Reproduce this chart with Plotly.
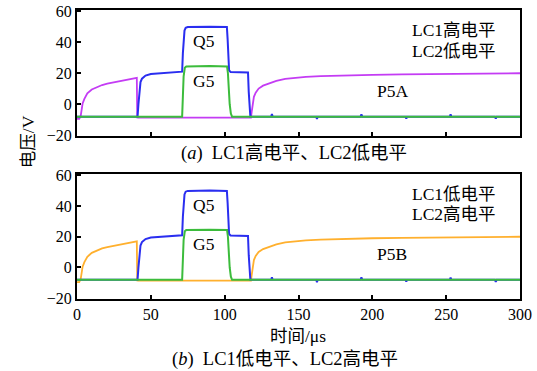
import plotly.graph_objects as go
from plotly.subplots import make_subplots

# ---------------- data ----------------
t_p5 = [0, 1.5, 2.5, 3.2, 3.8, 5, 7, 10, 13.7, 17, 20.5, 26, 31.8, 36, 40.5, 40.8, 41.5,
        60, 80, 100, 116, 117.8, 118.3, 119, 119.8, 121, 123, 126, 129.7, 135, 141, 148,
        155, 165, 180, 200, 220, 240, 260, 280, 300]
v_p5a = [-9.5, -9.5, -7.5, -3, 0.5, 3.5, 7, 9.5, 11.1, 12.4, 13.3, 14.4, 15.4, 16.2, 17.0, -8.5, -8.6,
         -8.6, -8.7, -8.6, -8.6, -8.6, -5, 0, 4.8, 7.5, 10.1, 12, 13.3, 15, 16.4, 17.1,
         17.6, 18.1, 18.6, 19.0, 19.3, 19.5, 19.7, 19.8, 20.0]
v_p5b = [-9.5, -9.5, -7.5, -3, 0.5, 3.5, 7, 9.5, 11.1, 12.4, 13.3, 14.4, 15.4, 16.2, 17.0, -8.5, -8.6,
         -8.6, -8.7, -8.6, -8.6, -8.6, -5, 0, 4.8, 7.5, 10.1, 12, 13.3, 15, 16.4, 17.1,
         17.6, 18.1, 18.6, 19.0, 19.3, 19.5, 19.7, 19.8, 20.0]

t_q5 = [0, 41, 41.6, 42.2, 43, 44, 46.4, 50, 57.7, 65, 71.2, 71.7, 72.2, 72.8, 73.6, 75, 90, 101.5,
        102, 102.5, 103, 104, 110, 115.8, 116.3, 116.8, 117.4, 131.5, 132, 132.5,
        162, 162.5, 163, 192, 192.6, 193.2, 222.5, 223, 223.5, 252.5, 253, 253.5,
        283, 283.6, 284.2, 300]
v_q5 = [-8, -8, 0, 8, 14.3, 16.5, 18.5, 19.5, 20.2, 20.6, 21, 33, 43, 47.5, 49.3, 49.8, 50, 49.8,
        42, 28, 21.8, 20.8, 20.6, 20.5, 8, -4, -8, -8, -6.3, -8,
        -8, -9.5, -8, -8, -6.5, -8, -8, -9.3, -8, -8, -6.5, -8,
        -8, -9.3, -8, -8]

t_g5 = [0, 71.2, 71.7, 72.2, 73, 74, 90, 101.6, 102.2, 102.8, 103.4, 104.2, 105, 300]
v_g5 = [-8, -8, 5, 18, 23.5, 24.4, 24.6, 24.4, 20, 9, 0, -6, -8, -8]

x_ticks = [0, 50, 100, 150, 200, 250, 300]
y_ticks = [-20, 0, 20, 40, 60]
y_tick_text = ["\u221220", "0", "20", "40", "60"]

# ---------------- figure ----------------
SERIF = "Liberation Serif, Noto Sans CJK SC, serif"
MAGENTA = "#c43cf4"
ORANGE = "#ffb02e"
BLUE = "#2a2ef0"
GREEN = "#3cbc3c"

fig = make_subplots(rows=2, cols=1, vertical_spacing=0.1315)

for row, p5, col in [(1, v_p5a, MAGENTA), (2, v_p5b, ORANGE)]:
    fig.add_trace(go.Scatter(x=t_p5, y=p5, mode="lines", line=dict(color=col, width=1.8),
                             showlegend=False), row=row, col=1)
    fig.add_trace(go.Scatter(x=t_q5, y=v_q5, mode="lines", line=dict(color=BLUE, width=2),
                             showlegend=False), row=row, col=1)
    fig.add_trace(go.Scatter(x=t_g5, y=v_g5, mode="lines", line=dict(color=GREEN, width=2),
                             showlegend=False), row=row, col=1)

axis_common = dict(showline=True, linecolor="black", linewidth=2, mirror=True,
                   ticks="inside", ticklen=4, tickwidth=1.5, tickcolor="black",
                   showgrid=False, zeroline=False, automargin=False,
                   tickfont=dict(family=SERIF, size=16, color="black"))

fig.update_xaxes(range=[0, 300], tickvals=x_ticks, **axis_common)
fig.update_yaxes(range=[-20.5, 60.8], tickvals=y_ticks, ticktext=y_tick_text, **axis_common)
fig.update_xaxes(showticklabels=False, row=1, col=1)

fig.update_layout(
    width=537, height=371,
    margin=dict(l=77, r=17, t=10, b=72, autoexpand=False),
    plot_bgcolor="white", paper_bgcolor="white",
    font=dict(family=SERIF, size=17, color="black"),
)
fig.update_layout(yaxis=dict(domain=[0.564, 1.0]), yaxis2=dict(domain=[0.0, 0.4325]))

# in-plot labels
for row, (xr, yr), name, lc1, lc2 in [(1, ("x", "y"), "P5A", "LC1高电平", "LC2低电平"),
                                      (2, ("x2", "y2"), "P5B", "LC1低电平", "LC2高电平")]:
    for txt, xx, yy in [("Q5", 86, 40.5), ("G5", 86, 15), (name, 213.5, 8.8),
                        (lc1, 255, 47.8), (lc2, 255, 34.6)]:
        fig.add_annotation(x=xx, y=yy, xref=xr, yref=yr, text=txt, showarrow=False,
                           xanchor="center", yanchor="middle",
                           font=dict(family=SERIF, size=17.5, color="black"))

# captions and axis titles
def paper_text(txt, x, y, angle=0, size=17):
    fig.add_annotation(x=x, y=y, xref="paper", yref="paper", text=txt, showarrow=False,
                       xanchor="center", yanchor="middle", textangle=angle,
                       font=dict(family=SERIF, size=size, color="black"))

paper_text("(<i>a</i>)&nbsp;&nbsp;LC1高电平、LC2低电平", 0.49, 0.505, size=18.5)
paper_text("(<i>b</i>)&nbsp;&nbsp;LC1低电平、LC2高电平", 0.47, -0.211, size=18.5)
paper_text("时间/μs", 0.499, -0.127, size=17.5)
paper_text("电压/V", -0.109, 0.545, -90, size=17.5)

fig.write_html("out.html", config={"displayModeBar": False},
               post_script="document.body.style.margin='0';document.body.style.overflow='hidden';")
